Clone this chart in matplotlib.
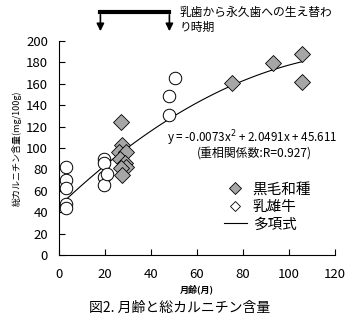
import numpy as np
import matplotlib
matplotlib.use("Agg")
import matplotlib.pyplot as plt
from matplotlib.lines import Line2D

plt.rcParams['font.family'] = ['Noto Sans CJK JP', 'DejaVu Sans']

# 黒毛和種 (Japanese Black)
wagyu_x = [27, 27.3, 26, 29, 26.5, 28.7, 29, 27, 27.3, 75, 93, 105.5, 105.5]
wagyu_y = [124, 103, 96, 96, 90, 86, 82, 81, 75, 161, 179, 188, 162]
# 乳雄牛 (Dairy steers)
dairy_x = [3, 3, 3, 3, 3, 19.5, 19.5, 19.5, 19.5, 21, 48, 48, 50.4]
dairy_y = [82, 70, 63, 48, 44, 90, 86, 73, 65, 76, 131, 149, 165]
# polynomial trend coefficients
coef = [-0.0073, 2.0491, 45.611]
fit_range = [3, 106]
period = [18, 48]

xticks = [0, 20, 40, 60, 80, 100, 120]
yticks = [0, 20, 40, 60, 80, 100, 120, 140, 160, 180, 200]

fig = plt.figure(figsize=(3.52, 3.23), dpi=100)
ax = fig.add_axes([59/352, 1-255/323, (335-59)/352, (255-41)/323])

def py(p):
    # pixel row -> data y
    return 200*(255-p)/214

xs = np.linspace(fit_range[0], fit_range[1], 100)
ax.plot(xs, np.polyval(coef, xs), color='black', lw=0.8, zorder=1)
ax.plot(wagyu_x, wagyu_y, 'D', ms=8, mfc='#a6a6a6', mec='black', mew=0.6, ls='none', zorder=3)
ax.plot(dairy_x, dairy_y, 'o', ms=9, mfc='white', mec='black', mew=0.7, ls='none', zorder=2)

ax.set_xlim(0, 120)
ax.set_ylim(0, 200)
ax.set_xticks(xticks)
ax.set_yticks(yticks)
ax.spines['top'].set_visible(False)
ax.spines['right'].set_visible(False)
ax.tick_params(direction='in', length=4, labelsize=9.5, width=0.8)
ax.tick_params(axis='x', pad=9)
ax.tick_params(axis='y', pad=8)
ax.set_xlabel('月齢(月)', fontsize=6.5, fontweight='bold', labelpad=3)
ax.set_ylabel('総カルニチン含量(mg/100g)', fontsize=6.5, labelpad=3)

ax.text(47, py(138), 'y = -0.0073x$^2$ + 2.0491x + 45.611', fontsize=8.4, ha='left', va='center',
        clip_on=False)
ax.text(85, py(153.5), '(重相関係数:R=0.927)', fontsize=8.6, ha='center', va='center')

handles = [
    Line2D([], [], marker='D', ms=6, mfc='#a6a6a6', mec='black', mew=0.6, ls='none'),
    Line2D([], [], marker='D', ms=5, mfc='white', mec='black', mew=0.6, ls='none'),
    Line2D([], [], color='black', lw=0.8),
]
ax.legend(handles, ['黒毛和種', '乳雄牛', '多項式'], loc='upper left',
          bbox_to_anchor=(0.57, (255-175)/214), frameon=False, fontsize=10.5,
          handlelength=1.6, handletextpad=0.4, labelspacing=0.25, borderpad=0)

# tooth replacement period annotation
ax.plot(period, [py(12)]*2, color='black', lw=3, clip_on=False)
for p in period:
    ax.annotate('', xy=(p, py(34)), xytext=(p, py(12)),
                arrowprops=dict(arrowstyle='-|>', color='black', lw=1.2, mutation_scale=11),
                annotation_clip=False)
ax.text(52.5, py(20), '乳歯から永久歯への生え替わ\nり時期', fontsize=8.5,
        ha='left', va='center', linespacing=1.25)

fig.text(180/352, 1-308/323, '図2. 月齢と総カルニチン含量', fontsize=10, ha='center', va='center')

fig.savefig('out.png', dpi=100)
